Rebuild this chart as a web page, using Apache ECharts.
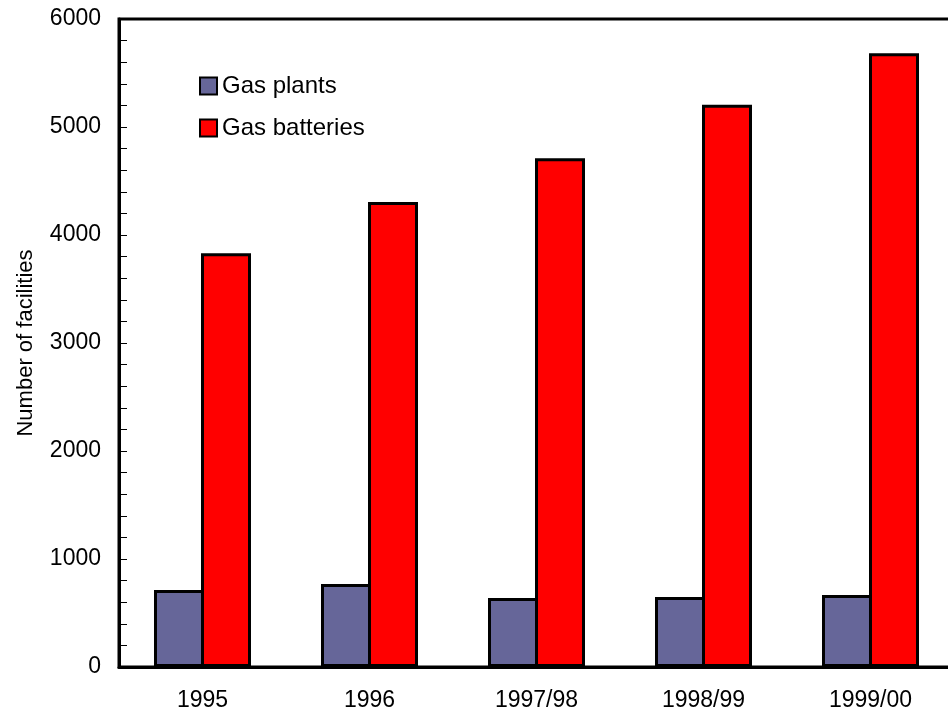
<!DOCTYPE html>
<html>
<head>
<meta charset="utf-8">
<script src="https://cdn.jsdelivr.net/npm/echarts@6/dist/echarts.min.js"></script>
<style>
  html, body { margin: 0; padding: 0; background: #fff; }
  #chart { width: 948px; height: 723px; }
</style>
</head>
<body>
<div id="chart"></div>
<script>
// Facility counts by reporting year
const categories = ['1995', '1996', '1997/98', '1998/99', '1999/00'];
const gasPlants = [712, 768, 638, 648, 666];
const gasBatteries = [3830, 4305, 4710, 5205, 5682];
const yTicks = [0, 1000, 2000, 3000, 4000, 5000, 6000];

const FONT = '"Liberation Sans", Arial, sans-serif';

const chart = echarts.init(document.getElementById('chart'), null, { renderer: 'canvas' });

chart.setOption({
  animation: false,
  backgroundColor: '#ffffff',
  grid: {
    left: 119, top: 19, width: 835, height: 648,
    containLabel: false, outerBoundsMode: 'none',
    show: true, borderColor: '#000', borderWidth: 3, backgroundColor: 'transparent'
  },
  legend: {
    left: 199, top: 74, padding: 0, orient: 'vertical', itemGap: 18,
    itemWidth: 17, itemHeight: 17, icon: 'rect',
    textStyle: { fontFamily: FONT, fontSize: 24, lineHeight: 22, color: '#000' },
    itemStyle: { borderColor: '#000', borderWidth: 2 },
    data: ['Gas plants', 'Gas batteries']
  },
  xAxis: {
    type: 'category',
    data: categories,
    axisLine: { lineStyle: { color: '#000', width: 3 } },
    axisTick: { inside: true, length: 8, lineStyle: { color: '#000', width: 1 } },
    axisLabel: { fontFamily: FONT, fontSize: 23, color: '#000', margin: 22 }
  },
  yAxis: {
    type: 'value',
    min: yTicks[0], max: yTicks[yTicks.length - 1], interval: 1000,
    name: 'Number of facilities',
    nameLocation: 'middle', nameGap: 82, nameRotate: 90,
    nameTextStyle: { fontFamily: FONT, fontSize: 22, color: '#000' },
    axisLine: { show: true, lineStyle: { color: '#000', width: 3 } },
    axisTick: { show: true, inside: true, length: 8, lineStyle: { color: '#000', width: 1 } },
    minorTick: { show: true, splitNumber: 5, length: 8, lineStyle: { color: '#000', width: 1 } },
    splitLine: { show: false },
    axisLabel: {
      fontFamily: FONT, fontSize: 23, color: '#000', margin: 18,
      formatter: (v) => String(v)
    }
  },
  series: [
    {
      name: 'Gas plants', type: 'bar', data: gasPlants,
      barWidth: 50, barGap: '-6%',
      itemStyle: { color: '#666699', borderColor: '#000', borderWidth: 3 }
    },
    {
      name: 'Gas batteries', type: 'bar', data: gasBatteries,
      barWidth: 50, barGap: '-6%',
      itemStyle: { color: '#ff0000', borderColor: '#000', borderWidth: 3 }
    }
  ]
});
</script>
</body>
</html>
